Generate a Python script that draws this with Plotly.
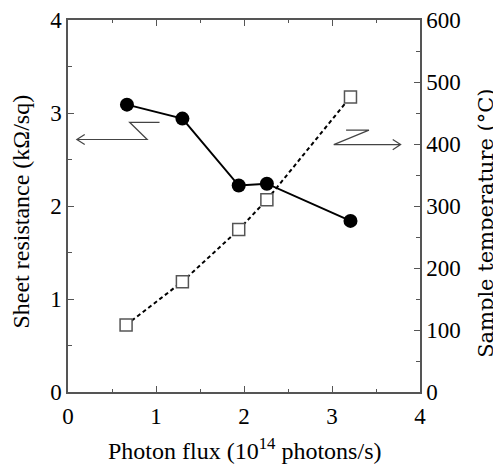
import plotly.graph_objects as go

# Data
flux = [0.67, 1.30, 1.94, 2.26, 3.21]              # 10^14 photons/s
sheet_res = [3.09, 2.94, 2.22, 2.24, 1.84]         # kOhm/sq
flux_t = [0.66, 1.30, 1.94, 2.26, 3.21]
temperature = [108, 178, 262, 310, 476]            # deg C

x_ticks = [0, 1, 2, 3, 4]
y_ticks = [0, 1, 2, 3, 4]
y2_ticks = [0, 100, 200, 300, 400, 500, 600]

x_title = "Photon flux (10<sup>14</sup> photons/s)"
y_title = "Sheet resistance (kΩ/sq)"
y2_title = "Sample temperature (°C)"

FONT = "Times New Roman, Liberation Serif, serif"
AX = "#555555"

fig = go.Figure()
fig.add_trace(go.Scatter(
    x=flux_t, y=temperature, yaxis="y2", mode="lines+markers",
    line=dict(color="black", width=2, dash="4px,3px"),
    marker=dict(symbol="square", size=12, color="white",
                line=dict(color="#555555", width=1.5)),
    showlegend=False))
fig.add_trace(go.Scatter(
    x=flux, y=sheet_res, mode="lines+markers",
    line=dict(color="black", width=2),
    marker=dict(symbol="circle", size=14, color="black"),
    showlegend=False))

# Indicator arrows (left: to resistance axis, right: to temperature axis)
ax_col = "#444444"
left_path = ("M 1.04 2.90 L 0.70 2.90 L 0.90 2.715 L 0.10 2.715 "
             "M 0.19 2.77 L 0.10 2.715 L 0.19 2.66")
right_path = ("M 3.16 2.816 L 3.42 2.816 L 3.02 2.66 L 3.78 2.66 "
              "M 3.69 2.715 L 3.78 2.66 L 3.69 2.605")
for p in (left_path, right_path):
    fig.add_shape(type="path", path=p, xref="x", yref="y",
                  line=dict(color=ax_col, width=1.2))

tickfont = dict(family=FONT, size=23, color="black")

# Axis titles placed as annotations (paper coordinates)
fig.add_annotation(text=x_title, xref="paper", yref="paper", x=0.5, y=-0.153,
                   xanchor="center", yanchor="middle", showarrow=False,
                   font=dict(family=FONT, size=24, color="black"))
fig.add_annotation(text=y_title, xref="paper", yref="paper", x=-0.1335, y=0.485,
                   xanchor="center", yanchor="middle", showarrow=False,
                   textangle=-90,
                   font=dict(family=FONT, size=24, color="black"))
fig.add_annotation(text=y2_title, xref="paper", yref="paper", x=1.1875, y=0.452,
                   xanchor="center", yanchor="middle", showarrow=False,
                   textangle=-90,
                   font=dict(family="DejaVu Serif, serif", size=21, color="black"))

fig.update_layout(
    width=493, height=457,
    margin=dict(l=60, r=81, t=12, b=73),
    plot_bgcolor="white", paper_bgcolor="white",
    font=dict(family=FONT),
    xaxis=dict(range=[0, 4], tickvals=x_ticks, ticks="inside", ticklen=6,
               tickcolor=AX, showline=True, linecolor=AX, linewidth=1.5,
               mirror="ticks", showgrid=False, zeroline=False,
               tickfont=tickfont, automargin=False, ticklabelstandoff=3,
               minor=dict(dtick=0.5, ticks="inside", ticklen=3, tickcolor=AX)),
    yaxis=dict(range=[0, 4], tickvals=y_ticks, ticks="inside", ticklen=6,
               tickcolor=AX, showline=True, linecolor=AX, linewidth=1.5,
               showgrid=False, zeroline=False, tickfont=tickfont,
               automargin=False,
               minor=dict(dtick=0.5, ticks="inside", ticklen=4, tickcolor=AX)),
    yaxis2=dict(range=[0, 600], tickvals=y2_ticks, overlaying="y", side="right",
                ticks="inside", ticklen=6, tickcolor=AX, showline=True,
                linecolor=AX, linewidth=1.5, showgrid=False, zeroline=False,
                tickfont=tickfont, automargin=False,
                minor=dict(dtick=50, ticks="inside", ticklen=4, tickcolor=AX)),
)

fig.write_html("out.html")
